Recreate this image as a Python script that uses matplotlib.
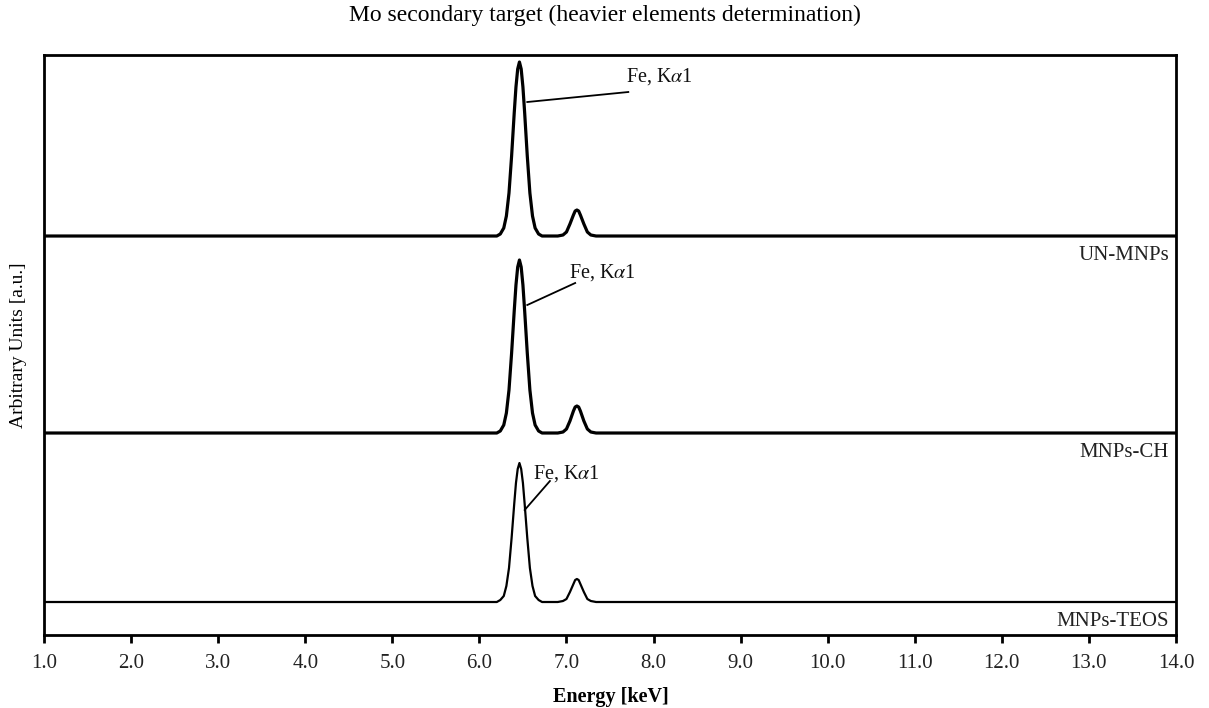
import matplotlib.pyplot as plt

plt.rcParams['font.family'] = ['Liberation Serif', 'DejaVu Serif']
plt.rcParams['mathtext.fontset'] = 'stix'

# energy grid [keV] and intensities (arbitrary units)
energy = [1.0, 6.00, 6.20, 6.24, 6.28, 6.31, 6.34, 6.37, 6.40, 6.42, 6.44, 6.46,
          6.48, 6.50, 6.52, 6.55, 6.58, 6.61, 6.64, 6.68, 6.72, 6.80, 6.90, 6.96,
          7.00, 7.04, 7.08, 7.10, 7.12, 7.14, 7.16, 7.20, 7.24, 7.28, 7.34, 8.0, 14.0]

un_mnps = [0, 0, 0, 2, 8, 20, 43, 80, 123, 149, 167, 174, 167, 149, 123, 80, 43,
           20, 8, 2, 0, 0, 0, 1, 4, 12, 21, 25, 26, 25, 21, 12, 4, 1, 0, 0, 0]
mnps_ch = [0, 0, 0, 2, 8, 20, 43, 80, 122, 148, 166, 173, 166, 148, 122, 80, 43,
           20, 8, 2, 0, 0, 0, 1, 4, 12, 22, 26, 27, 26, 22, 12, 4, 1, 0, 0, 0]
mnps_teos = [0, 0, 0, 2, 6, 16, 34, 64, 98, 119, 133, 139, 133, 119, 98, 64, 34,
             16, 6, 2, 0, 0, 0, 1, 3, 10, 18, 22, 23, 22, 18, 10, 3, 1, 0, 0, 0]

names = ['UN-MNPs', 'MNPs-CH', 'MNPs-TEOS']
spectra = [un_mnps, mnps_ch, mnps_teos]
offsets = [399, 202, 33]
widths = [2.3, 2.3, 1.6]

fig = plt.figure(figsize=(12.09, 7.08), dpi=100)
ax = fig.add_axes([0.0364, 0.1031, 0.9363, 0.8192])

for spec, off, lw in zip(spectra, offsets, widths):
    ax.plot(energy, [v + off for v in spec], color='black', lw=lw,
            solid_joinstyle='round', solid_capstyle='butt')

# sample labels under each baseline, right side
for name, off in zip(names, offsets):
    ax.text(13.92, off - 10, name, ha='right', va='top', fontsize=15, color='#222222')

# Fe K-alpha1 labels with leader lines
lab = 'Fe, K$\\alpha$1'
ax.text(7.68, 553, lab, fontsize=14.5, va='baseline', color='#111111')
ax.plot([6.55, 7.71], [533, 543], color='black', lw=1.3)
ax.text(7.03, 357, lab, fontsize=14.5, va='baseline', color='#111111')
ax.plot([6.55, 7.10], [330, 352], color='black', lw=1.3)
ax.text(6.62, 156, lab, fontsize=14.5, va='baseline', color='#111111')
ax.plot([6.52, 6.81], [125, 154], color='black', lw=1.3)

ax.set_xlim(1.0, 14.0)
ax.set_ylim(0, 580)
ax.set_xticks(range(1, 15))
ax.set_xticklabels([f'{t:.1f}' for t in range(1, 15)], fontsize=15, color='#222222')
ax.set_yticks([])
ax.tick_params(axis='x', direction='out', length=6, width=2, pad=8)
for s in ax.spines.values():
    s.set_linewidth(2)

fig.text(0.505, 0.0155, 'Energy [keV]', ha='center', va='center',
         fontsize=14.5, fontweight='bold')
fig.text(0.0155, 0.513, 'Arbitrary Units [a.u.]', ha='center', va='center',
         rotation=90, fontsize=14)
fig.text(0.5, 0.978, 'Mo secondary target (heavier elements determination)',
         ha='center', va='center', fontsize=17)

fig.savefig('out.png', dpi=100)
